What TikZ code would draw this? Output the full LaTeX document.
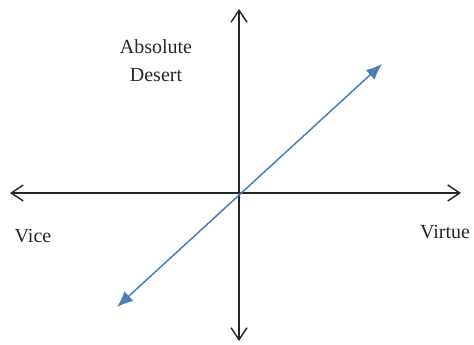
\documentclass[tikz,border=0pt]{standalone}
\usepackage{fontspec}
\setmainfont{Liberation Serif}
\usepackage{xcolor}
\usetikzlibrary{arrows.meta,positioning}
\definecolor{lineblue}{RGB}{74,126,187}

\begin{document}
\begin{tikzpicture}[
    x=1pt, y=-1pt,
    axis/.style={draw=black!85, line width=1.4pt, {Straight Barb[length=12pt,width=16pt]}-{Straight Barb[length=12pt,width=16pt]}},
    trend/.style={draw=lineblue, line width=1.5pt, {Latex[length=16pt,width=13pt]}-{Latex[length=16pt,width=13pt]}},
    label/.style={font=\fontsize{20}{28}\selectfont, text=black!85, align=center, inner sep=0pt}
]
\useasboundingbox (0,0) rectangle (474,345);

\coordinate (vice end) at (10,193);
\coordinate (virtue end) at (461,193);
\coordinate (desert top) at (239,9);
\coordinate (desert bottom) at (239,341);
\coordinate (low end) at (117,307);
\coordinate (high end) at (382,64);

\node[label] (desert) at (156,61) {Absolute\\Desert};
\node[label] (vice) at (33,236) {Vice};
\node[label] (virtue) at (445,232) {Virtue};

\draw[axis] (vice end) -- (virtue end);
\draw[axis] (desert bottom) -- (desert top);
\draw[trend] (low end) -- (high end);

\end{tikzpicture}
\end{document}
